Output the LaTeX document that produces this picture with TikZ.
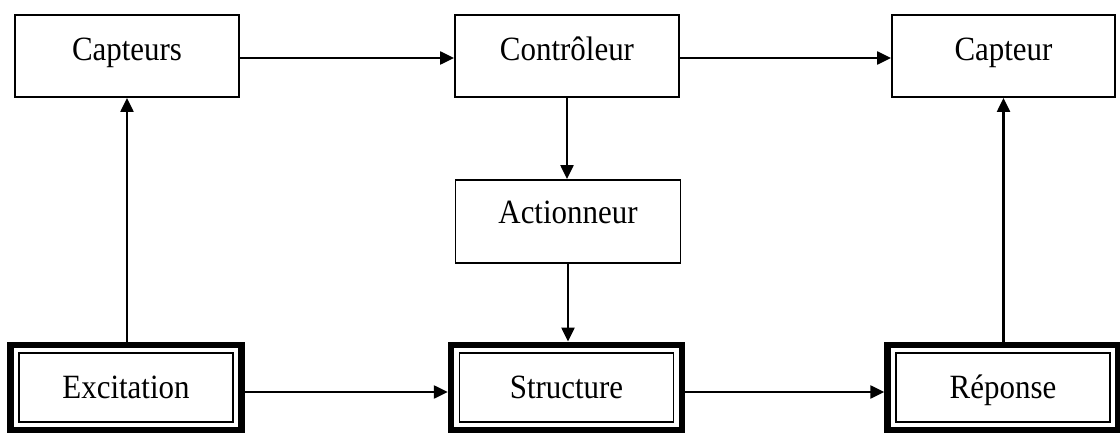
\documentclass[tikz,border=0pt]{standalone}
\usepackage{fontspec}
\setmainfont{Liberation Serif}[FakeStretch=0.91]
\usetikzlibrary{arrows.meta,fit}
\begin{document}
\begin{tikzpicture}[x=1pt,y=-1pt,
  every node/.style={font=\fontsize{34}{40}\selectfont},
  topbox/.style={draw, line width=1.8pt, inner sep=0pt, minimum width=224pt, text height=46pt, text depth=36pt},
  actbox/.style={draw, line width=1.8pt, inner sep=0pt, minimum width=225pt, text height=43pt, text depth=40pt},
  inbox/.style={draw, line width=1.8pt, inner sep=0pt, minimum width=214pt, text height=45pt, text depth=24pt},
  outbox/.style={draw, line width=6.5pt, inner xsep=7.5pt, inner ysep=7.25pt},
  link/.style={line width=2.2pt, -{Triangle[length=14pt,width=13pt]}}]
\useasboundingbox (0,0) rectangle (1120,433);
% top row
\node[topbox] (capteurs) at (127,56) {Capteurs};
\node[topbox] (controleur) at (567,56) {Contrôleur};
\node[topbox, minimum width=223pt] (capteur) at (1003.5,56) {Capteur};
\node[actbox] (actionneur) at (568,221.5) {Actionneur};
% bottom row
\node[inbox] (excitation) at (126,387.5) {Excitation};
\node[outbox, fit=(excitation)] (excitationO) {};
\node[inbox] (structure) at (566.5,387.5) {Structure};
\node[outbox, fit=(structure)] (structureO) {};
\node[inbox] (reponse) at (1003,387.5) {Réponse};
\node[outbox, fit=(reponse)] (reponseO) {};
% connectors
\draw[link] ([yshift=-2pt]capteurs.east) -- ([yshift=-2pt]controleur.west);
\draw[link] ([yshift=-2pt]controleur.east) -- ([yshift=-2pt]capteur.west);
\draw[link] (controleur.south) -- (actionneur.north -| controleur.south);
\draw[link] (actionneur.south) -- (structureO.north -| actionneur.south);
\draw[link] (excitationO.north -| capteurs.south) -- (capteurs.south);
\draw[link] (reponseO.north -| capteur.south) -- (capteur.south);
\draw[link] ([yshift=-4.5pt]excitationO.east) -- ([yshift=-4.5pt]structureO.west);
\draw[link] ([yshift=-4.5pt]structureO.east) -- ([yshift=-4.5pt]reponseO.west);
\end{tikzpicture}
\end{document}
